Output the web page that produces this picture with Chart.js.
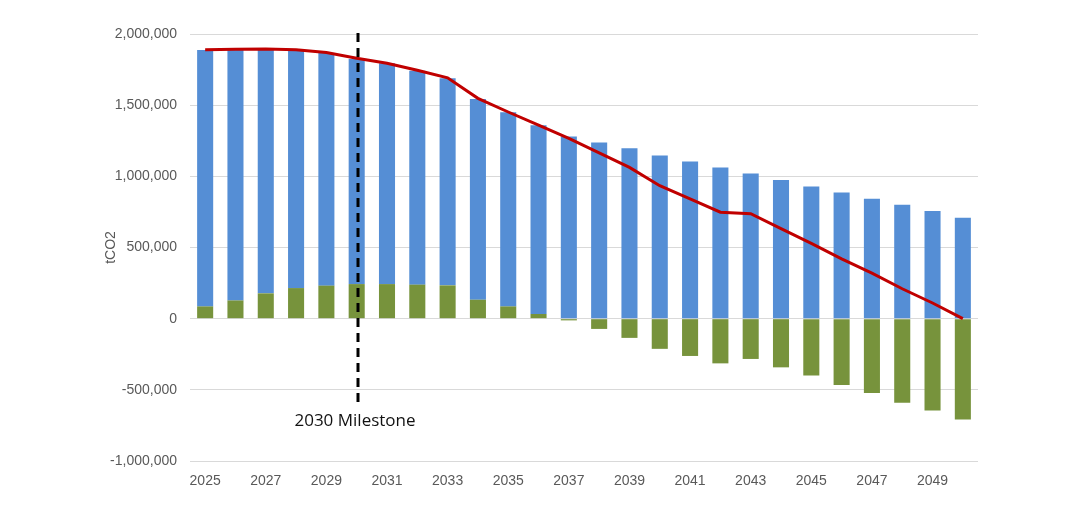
<!DOCTYPE html>
<html>
<head>
<meta charset="utf-8">
<script src="https://cdn.jsdelivr.net/npm/chart.js@4"></script>
<style>
html,body{margin:0;padding:0;background:#ffffff;}
#wrap{width:1080px;height:522px;}
</style>
</head>
<body>
<div id="wrap"><canvas id="c" width="1080" height="522"></canvas></div>
<script>
// ---- data (values in tCO2) ----
const years = ['2025','2026','2027','2028','2029','2030','2031','2032','2033','2034','2035','2036','2037',
               '2038','2039','2040','2041','2042','2043','2044','2045','2046','2047','2048','2049','2050'];
// blue stacked segment
const emissions = [1802000,1765000,1717000,1673000,1635000,1582000,1552000,1503000,1455000,1411000,1365000,1326000,1279000,
                   1237000,1198000,1146000,1104000,1062000,1020000,975000,929000,886000,842000,800000,756000,709000];
// green stacked segment
const adjustments = [86000,128000,178000,215000,232000,243000,243000,239000,234000,133000,86000,33000,-12000,
                     -72000,-135000,-212000,-262000,-314000,-283000,-342000,-400000,-466000,-522000,-590000,-646000,-709000];
// red line
const netEmissions = [1890000,1893000,1895000,1890000,1870000,1830000,1795000,1745000,1692000,1548000,1452000,1360000,1267000,
                      1165000,1063000,934000,842000,748000,737000,633000,529000,420000,320000,210000,110000,0];
const yMin = -1000000, yMax = 2000000, yStep = 500000;
const milestoneYear = '2030';
const milestoneLabel = '2030 Milestone';

const tickFont = {family: 'Liberation Sans', size: 14};
const tickColor = '#595959';

const milestonePlugin = {
  id: 'milestone',
  afterDatasetsDraw(chart) {
    const {ctx, scales: {x}, chartArea} = chart;
    const px = Math.round(x.getPixelForValue(years.indexOf(milestoneYear))) + 1;
    ctx.save();
    ctx.strokeStyle = '#000000';
    ctx.lineWidth = 3;
    ctx.setLineDash([9, 6]);
    ctx.beginPath();
    ctx.moveTo(px, chartArea.top - 1);
    ctx.lineTo(px, 404);
    ctx.stroke();
    ctx.setLineDash([]);
    ctx.fillStyle = '#111111';
    ctx.font = '17px "Open Sans"';
    ctx.textAlign = 'center';
    ctx.textBaseline = 'middle';
    ctx.fillText(milestoneLabel, px - 3, 421);
    ctx.restore();
  }
};

new Chart(document.getElementById('c'), {
  data: {
    labels: years,
    datasets: [
      {type: 'line', label: 'Net', data: netEmissions, borderColor: '#C00000', borderWidth: 3,
       pointRadius: 0, tension: 0, fill: false, stack: 'net', order: 0},
      {type: 'bar', label: 'Adjustments', data: adjustments, backgroundColor: '#77933C',
       stack: 'bars', order: 1, barPercentage: 0.53, categoryPercentage: 1.0},
      {type: 'bar', label: 'Emissions', data: emissions, backgroundColor: '#558ED5',
       stack: 'bars', order: 2, barPercentage: 0.53, categoryPercentage: 1.0}
    ]
  },
  options: {
    responsive: false,
    animation: false,
    devicePixelRatio: 1,
    layout: {padding: {left: 100, right: 102, top: 34, bottom: 0}},
    plugins: {legend: {display: false}, tooltip: {enabled: false}},
    scales: {
      x: {
        stacked: true,
        grid: {display: false, drawTicks: false},
        border: {display: false},
        ticks: {
          color: tickColor, font: tickFont, padding: 12, autoSkip: false, maxRotation: 0,
          callback: function(v, i) { return i % 2 === 0 ? years[i] : ''; }
        },
        afterFit(scale) { scale.height = 61; }
      },
      y: {
        stacked: true,
        min: yMin, max: yMax,
        grid: {color: '#D9D9D9', lineWidth: 1, drawTicks: false},
        border: {display: false},
        ticks: {
          stepSize: yStep, color: tickColor, font: tickFont, padding: 13,
          callback: function(v) { return Number(v).toLocaleString('en-US'); }
        },
        title: {display: true, text: 'tCO2', color: tickColor, font: {family: 'Liberation Sans', size: 14}, padding: {top: 3, bottom: 0}},
        afterFit(scale) { scale.width = 90; }
      }
    }
  },
  plugins: [milestonePlugin]
});
</script>
</body>
</html>
